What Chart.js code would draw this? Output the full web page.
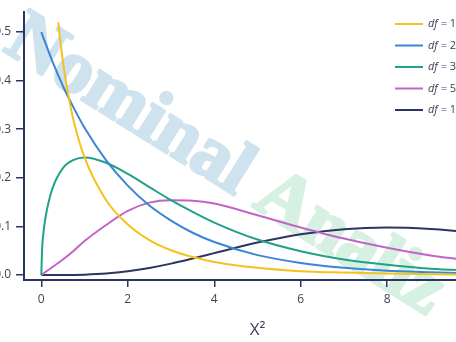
<!DOCTYPE html>
<html>
<head>
<meta charset="utf-8">
<script src="https://cdn.jsdelivr.net/npm/chart.js@4"></script>
<style>
  html, body { margin: 0; padding: 0; background: #fff; overflow: hidden; }
  #wrap { position: relative; width: 456px; height: 342px; overflow: hidden; }
  #chi { position: absolute; left: -16px; top: 0; }
</style>
</head>
<body>
<div id="wrap"><canvas id="chi" width="520" height="342"></canvas></div>
<script>
// degrees of freedom shown in the legend
const dfValues = [1, 2, 3, 5, 10];
const seriesColors = ['#f4c21e', '#3a86d6', '#1fa287', '#c263c6', '#2c3462'];

// x positions
const xsDf1 = [0.39, 0.5, 0.6, 0.75, 1, 1.5, 2, 2.5, 3, 3.5, 4, 5, 6, 7, 8, 9, 10];
const xsDf3 = [0, 0.02, 0.05, 0.1, 0.25, 0.5, 0.75, 1, 1.5, 2, 2.5, 3, 3.5, 4, 5, 6, 7, 8, 9, 10];
const xsCommon = [0, 0.25, 0.5, 0.75, 1, 1.5, 2, 2.5, 3, 3.5, 4, 5, 6, 7, 8, 9, 10];

// density values
const df1 = [0.52, 0.439, 0.382, 0.317, 0.242, 0.154, 0.104, 0.072, 0.051, 0.037, 0.027, 0.015, 0.008, 0.005, 0.003, 0.0015, 0.001];
const df2 = [0.5, 0.441, 0.389, 0.344, 0.303, 0.236, 0.184, 0.143, 0.112, 0.087, 0.068, 0.041, 0.025, 0.015, 0.009, 0.006, 0.003];
const df3 = [0, 0.056, 0.087, 0.120, 0.176, 0.220, 0.237, 0.242, 0.231, 0.208, 0.181, 0.154, 0.130, 0.108, 0.073, 0.049, 0.032, 0.021, 0.013, 0.009];
const df5 = [0, 0.016, 0.032, 0.050, 0.070, 0.103, 0.132, 0.149, 0.154, 0.153, 0.147, 0.123, 0.098, 0.075, 0.056, 0.040, 0.029];
const df10 = [0, 0, 0.0001, 0.0003, 0.0008, 0.0031, 0.0077, 0.0146, 0.0235, 0.034, 0.0451, 0.0668, 0.084, 0.0944, 0.0977, 0.0948, 0.0877];

const xTicks = [0, 2, 4, 6, 8, 10];
const yTicks = [0, 0.1, 0.2, 0.3, 0.4, 0.5];

const navy = '#2c3462';
const pairs = (xs, ys) => xs.map((x, i) => ({ x: x, y: ys[i] }));
const series = [pairs(xsDf1, df1), pairs(xsCommon, df2), pairs(xsDf3, df3), pairs(xsCommon, df5), pairs(xsCommon, df10)];

// faint diagonal watermark behind everything
const watermark = {
    id: 'watermark',
    beforeDraw(chart) {
        const ctx = chart.ctx;
        ctx.save();
        ctx.translate(18, 50);
        ctx.rotate(32 * Math.PI / 180);
        ctx.font = 'bold 75px "Liberation Serif", serif';
        ctx.textBaseline = 'alphabetic';
        ctx.lineWidth = 3;
        ctx.lineJoin = 'round';
        ctx.fillStyle = ctx.strokeStyle = '#cfe3ef';
        ctx.fillText('Nominal', 0, 0);
        ctx.strokeText('Nominal', 0, 0);
        const w = ctx.measureText('Nominal ').width;
        ctx.fillStyle = ctx.strokeStyle = '#d6f0e2';
        ctx.fillText('Analiz', w, 0);
        ctx.strokeText('Analiz', w, 0);
        ctx.restore();
    }
};

// legend in the top right corner, "df" in italics
const dfLegend = {
    id: 'dfLegend',
    afterDraw(chart) {
        const ctx = chart.ctx;
        ctx.save();
        chart.data.datasets.forEach((ds, i) => {
            const y = 24 + i * 21.5;
            ctx.strokeStyle = ds.borderColor;
            ctx.lineWidth = 2;
            ctx.beginPath();
            ctx.moveTo(411, y);
            ctx.lineTo(439, y);
            ctx.stroke();
            ctx.fillStyle = '#3d4256';
            ctx.textBaseline = 'middle';
            ctx.font = 'italic 11px "Open Sans", sans-serif';
            ctx.fillText('df', 444, y);
            const w = ctx.measureText('df').width;
            ctx.font = '11px "Open Sans", sans-serif';
            ctx.fillText(' = ' + dfValues[i], 444 + w, y);
        });
        ctx.restore();
    }
};

new Chart(document.getElementById('chi'), {
    type: 'line',
    data: {
        datasets: series.map((pts, i) => ({
            label: 'df = ' + dfValues[i],
            data: pts,
            borderColor: seriesColors[i],
            borderWidth: 2,
            pointRadius: 0,
            fill: false,
            cubicInterpolationMode: 'monotone'
        }))
    },
    options: {
        responsive: false,
        devicePixelRatio: 1,
        animation: false,
        events: [],
        layout: { padding: { left: 0, right: 13, top: 10, bottom: 0 } },
        plugins: { legend: { display: false }, tooltip: { enabled: false } },
        scales: {
            x: {
                type: 'linear',
                min: -0.4,
                max: 10.4,
                afterFit(scale) { scale.height = 62; },
                afterBuildTicks(scale) { scale.ticks = xTicks.map(v => ({ value: v })); },
                grid: { display: true, drawOnChartArea: false, drawTicks: true, tickLength: 7, color: navy, lineWidth: 1.5 },
                border: { display: true, color: navy, width: 2 },
                ticks: { color: '#3d4256', padding: 5, font: { family: '"Open Sans", sans-serif', size: 12 }, callback: v => String(v) },
                title: { display: true, text: 'X²', color: '#3d4256', font: { family: '"Open Sans", sans-serif', size: 17 }, padding: { top: 0, bottom: 2 } }
            },
            y: {
                min: -0.0102,
                max: 0.5408,
                afterFit(scale) { scale.width = 40; },
                afterBuildTicks(scale) { scale.ticks = yTicks.map(v => ({ value: v })); },
                grid: { display: true, drawOnChartArea: false, drawTicks: true, tickLength: 8, color: navy, lineWidth: 1.5 },
                border: { display: true, color: navy, width: 2 },
                ticks: { color: '#3d4256', padding: 5, font: { family: '"Open Sans", sans-serif', size: 12 }, callback: v => v.toFixed(1) }
            }
        }
    },
    plugins: [watermark, dfLegend]
});
</script>
</body>
</html>
